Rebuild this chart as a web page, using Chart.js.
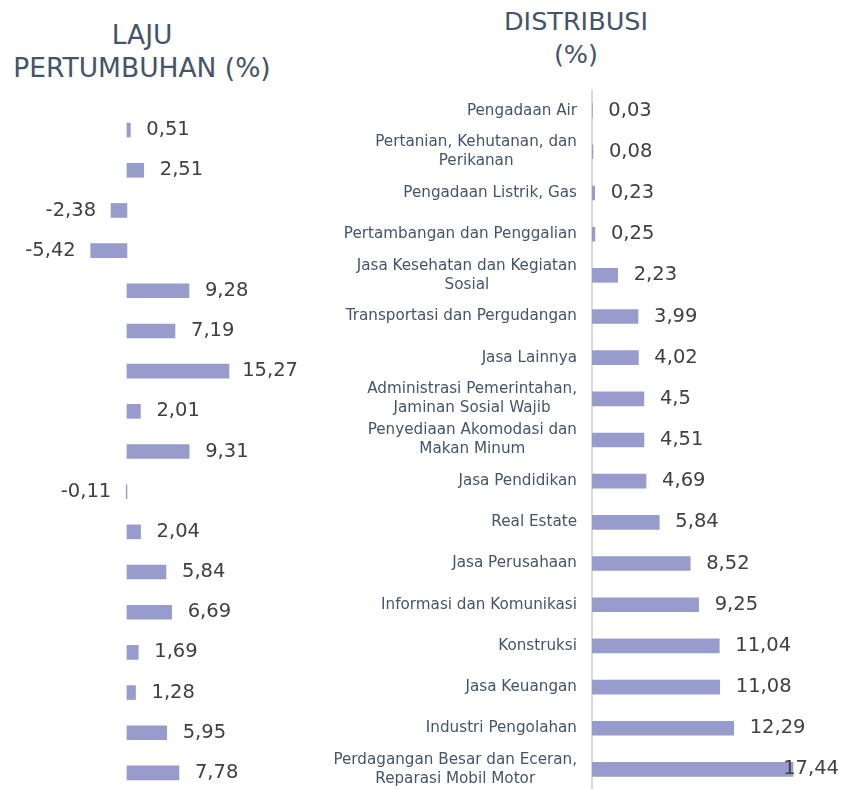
<!DOCTYPE html>
<html>
<head>
<meta charset="utf-8">
<script src="https://cdn.jsdelivr.net/npm/chart.js@4.4.1/dist/chart.umd.min.js"></script>
<style>
  body { margin: 0; background: #fff; width: 841px; height: 789px; position: relative; overflow: hidden; }
  .judul { position: absolute; color: #44546a; font-family: 'DejaVu Sans', sans-serif; text-align: center; line-height: 33px; }
  #kiri { position: absolute; left: 0; top: 110px; }
  #kanan { position: absolute; left: 330px; top: 90px; }
</style>
</head>
<body>
<div class="judul" style="left:0;width:284px;top:18px;font-size:26.5px;">LAJU<br>PERTUMBUHAN (%)</div>
<div class="judul" style="left:476px;width:200px;top:5px;font-size:25.5px;">DISTRIBUSI<br>(%)</div>
<canvas id="kiri" width="300" height="683"></canvas>
<canvas id="kanan" width="511" height="700"></canvas>
<script>
// sektor lapangan usaha, urut dari distribusi terkecil
var sektor = [
    'Pengadaan Air',
    ['Pertanian, Kehutanan, dan', 'Perikanan'],
    'Pengadaan Listrik, Gas',
    'Pertambangan dan Penggalian',
    ['Jasa Kesehatan dan Kegiatan', 'Sosial'],
    'Transportasi dan Pergudangan',
    'Jasa Lainnya',
    ['Administrasi Pemerintahan,', 'Jaminan Sosial Wajib'],
    ['Penyediaan Akomodasi dan', 'Makan Minum'],
    'Jasa Pendidikan',
    'Real Estate',
    'Jasa Perusahaan',
    'Informasi dan Komunikasi',
    'Konstruksi',
    'Jasa Keuangan',
    'Industri Pengolahan',
    ['Perdagangan Besar dan Eceran,', 'Reparasi Mobil Motor']
];
var lajuPertumbuhan = [0.51, 2.51, -2.38, -5.42, 9.28, 7.19, 15.27, 2.01, 9.31, -0.11, 2.04, 5.84, 6.69, 1.69, 1.28, 5.95, 7.78];
var distribusi = [0.03, 0.08, 0.23, 0.25, 2.23, 3.99, 4.02, 4.5, 4.51, 4.69, 5.84, 8.52, 9.25, 11.04, 11.08, 12.29, 17.44];

var warnaBar = '#989ccc';
var huruf = "'DejaVu Sans', sans-serif";

function angkaKoma(v) {
    return String(v).replace('.', ',');
}

// label nilai di ujung bar
var labelNilai = {
    id: 'labelNilai',
    afterDatasetsDraw: function (chart) {
        var ctx = chart.ctx;
        var meta = chart.getDatasetMeta(0);
        var data = chart.data.datasets[0].data;
        ctx.save();
        ctx.font = '19.5px ' + huruf;
        ctx.fillStyle = '#404040';
        ctx.textBaseline = 'middle';
        meta.data.forEach(function (bar, i) {
            var teks = angkaKoma(data[i]);
            var lebar = ctx.measureText(teks).width;
            if (data[i] < 0) {
                ctx.textAlign = 'right';
                ctx.fillText(teks, Math.min(bar.x, bar.base) - 15, bar.y);
            } else {
                ctx.textAlign = 'left';
                var x = Math.max(bar.x, bar.base) + 16;
                if (x + lebar > chart.width - 2) x = chart.width - 2 - lebar;
                ctx.fillText(teks, x, bar.y);
            }
        });
        ctx.restore();
    }
};

// label kategori: blok rata kanan, tiap baris rata tengah
var labelSektor = {
    id: 'labelSektor',
    afterDraw: function (chart) {
        var ctx = chart.ctx;
        var sumbuY = chart.scales.y;
        var kanan = sumbuY.right - 15;
        var tinggiBaris = 19;
        ctx.save();
        ctx.font = '15.2px ' + huruf;
        ctx.fillStyle = '#44546a';
        ctx.textAlign = 'center';
        ctx.textBaseline = 'middle';
        chart.data.labels.forEach(function (lbl, i) {
            var baris = Array.isArray(lbl) ? lbl : [lbl];
            var lebarMaks = 0;
            baris.forEach(function (t) { lebarMaks = Math.max(lebarMaks, ctx.measureText(t).width); });
            var y = sumbuY.getPixelForTick(i) - (baris.length - 1) * tinggiBaris / 2;
            baris.forEach(function (t, j) {
                ctx.fillText(t, kanan - lebarMaks / 2, y + j * tinggiBaris);
            });
        });
        ctx.restore();
    }
};

new Chart(document.getElementById('kiri'), {
    type: 'bar',
    data: {
        labels: sektor,
        datasets: [{
            data: lajuPertumbuhan,
            backgroundColor: warnaBar,
            barThickness: 14
        }]
    },
    options: {
        indexAxis: 'y',
        responsive: false,
        animation: false,
        plugins: { legend: { display: false }, tooltip: { enabled: false } },
        scales: {
            x: { display: false, min: -19, max: 25.9 },
            y: { display: false }
        }
    },
    plugins: [labelNilai]
});

new Chart(document.getElementById('kanan'), {
    type: 'bar',
    data: {
        labels: sektor,
        datasets: [{
            data: distribusi,
            backgroundColor: warnaBar,
            barThickness: 14
        }]
    },
    options: {
        indexAxis: 'y',
        responsive: false,
        animation: false,
        plugins: { legend: { display: false }, tooltip: { enabled: false } },
        scales: {
            x: { display: false, min: 0, max: 21.6 },
            y: {
                afterFit: function (scale) {
                    scale.width = 262;
                    scale.paddingTop = 0;
                    scale.paddingBottom = 0;
                },
                grid: { display: false, drawTicks: false },
                border: { display: true, color: '#d9d9d9', width: 2 },
                ticks: { display: false }
            }
        }
    },
    plugins: [labelNilai, labelSektor]
});
</script>
</body>
</html>
